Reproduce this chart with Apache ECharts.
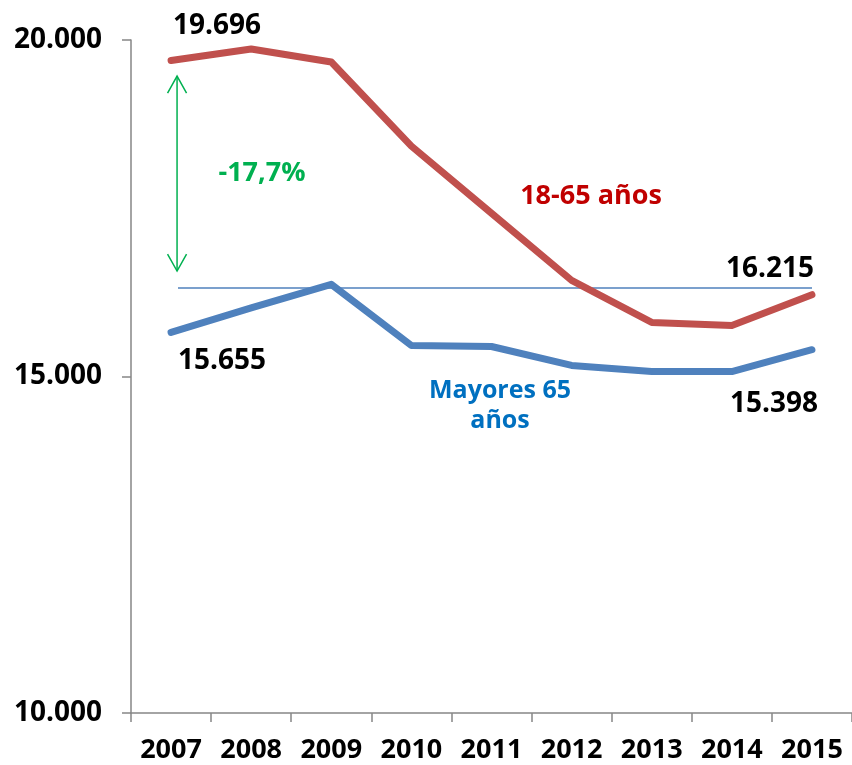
<!DOCTYPE html>
<html>
<head>
<meta charset="utf-8">
<script src="https://cdn.jsdelivr.net/npm/echarts@6/dist/echarts.min.js"></script>
<style>
  html, body { margin: 0; padding: 0; background: #fff; }
  #main { width: 852px; height: 765px; }
</style>
</head>
<body>
<div id="main"></div>
<script>
var years = ['2007', '2008', '2009', '2010', '2011', '2012', '2013', '2014', '2015'];
var adults = [19696, 19866, 19673, 18423, 17426, 16429, 15804, 15759, 16215];   // 18-65 años
var seniors = [15655, 16019, 16369, 15461, 15446, 15164, 15074, 15074, 15398];  // Mayores 65 años
var refLevel = 16324;               // linea horizontal de referencia
var arrowRange = [19464, 16567];    // flecha -17,7%
var yTicks = [10000, 15000, 20000];

var FONT = '"Open Sans", "DejaVu Sans", sans-serif';

function fmt(v) {
    return String(v).replace(/\B(?=(\d{3})+(?!\d))/g, '.');
}

// etiquetas solo en el primer y ultimo punto
function withLabels(values, first, last) {
    return values.map(function (v, i) {
        if (i === 0) return { value: v, label: { show: true, offset: first } };
        if (i === values.length - 1) return { value: v, label: { show: true, offset: last } };
        return v;
    });
}

var chart = echarts.init(document.getElementById('main'));

var labelStyle = {
    show: false,
    position: 'inside',
    color: '#000',
    fontFamily: FONT,
    fontWeight: 'bold',
    fontSize: 28,
    formatter: function (p) { return fmt(p.value); }
};

var option = {
    animation: false,
    backgroundColor: '#fff',
    grid: { left: 131, right: -3, top: 40, bottom: 52, containLabel: false },
    xAxis: {
        type: 'category',
        data: years,
        boundaryGap: true,
        axisLine: { lineStyle: { color: '#868686', width: 1.5 } },
        axisTick: { show: true, length: 9, lineStyle: { color: '#868686', width: 1.5 } },
        axisLabel: {
            color: '#000', fontFamily: FONT, fontWeight: 'bold', fontSize: 27, margin: 24,
            interval: 0
        },
        splitLine: { show: false }
    },
    yAxis: {
        type: 'value',
        min: yTicks[0],
        max: yTicks[yTicks.length - 1],
        interval: 5000,
        axisLine: { show: true, lineStyle: { color: '#868686', width: 1.5 } },
        axisTick: { show: true, length: 9, lineStyle: { color: '#868686', width: 1.5 } },
        axisLabel: {
            color: '#000', fontFamily: FONT, fontWeight: 'bold', fontSize: 28, margin: 29,
            formatter: function (v) { return fmt(v); }
        },
        splitLine: { show: false }
    },
    series: [
        {
            name: '18-65 años',
            type: 'line',
            data: withLabels(adults, [46, -34], [-42, -26]),
            symbol: 'circle',
            symbolSize: 2,
            itemStyle: { color: '#C0504D' },
            lineStyle: { color: '#C0504D', width: 7, cap: 'round', join: 'round' },
            label: labelStyle,
            z: 3
        },
        {
            name: 'Mayores 65 años',
            type: 'line',
            data: withLabels(seniors, [51, 29], [-38, 54]),
            symbol: 'circle',
            symbolSize: 2,
            itemStyle: { color: '#4F81BD' },
            lineStyle: { color: '#4F81BD', width: 7, cap: 'round', join: 'round' },
            label: labelStyle,
            z: 3,
            markLine: {
                silent: true,
                symbol: ['none', 'none'],
                label: { show: false },
                lineStyle: { color: '#4F81BD', width: 1.5, type: 'solid' },
                data: [[{ coord: [years[0], refLevel], x: 178 }, { coord: [years[years.length - 1], refLevel], x: 812 }]],
                z: 2
            }
        }
    ]
};
chart.setOption(option);

// flecha verde y textos
var arrowTop = chart.convertToPixel({ xAxisIndex: 0, yAxisIndex: 0 }, [years[0], arrowRange[0]]);
var arrowBot = chart.convertToPixel({ xAxisIndex: 0, yAxisIndex: 0 }, [years[0], arrowRange[1]]);
var ax = arrowTop[0] + 6;
var green = '#00B050';
var arrowLine = { stroke: green, lineWidth: 1.5, fill: null };

chart.setOption({
    graphic: [
        { type: 'line', shape: { x1: ax, y1: arrowTop[1], x2: ax, y2: arrowBot[1] }, style: arrowLine, z: 10 },
        { type: 'polyline', shape: { points: [[ax - 9.5, arrowTop[1] + 17], [ax, arrowTop[1]], [ax + 9.5, arrowTop[1] + 17]] }, style: arrowLine, z: 10 },
        { type: 'polyline', shape: { points: [[ax - 9.5, arrowBot[1] - 17], [ax, arrowBot[1]], [ax + 9.5, arrowBot[1] - 17]] }, style: arrowLine, z: 10 },
        {
            type: 'text', x: 262, y: 173, z: 10,
            style: { text: '-17,7%', fill: green, font: 'bold 27px ' + FONT, textAlign: 'center', textVerticalAlign: 'middle' }
        },
        {
            type: 'text', x: 591, y: 196, z: 10,
            style: { text: '18-65 años', fill: '#C00000', font: 'bold 27px ' + FONT, textAlign: 'center', textVerticalAlign: 'middle' }
        },
        {
            type: 'text', x: 500, y: 406, z: 10,
            style: { text: 'Mayores 65\naños', fill: '#0070C0', font: 'bold 25px ' + FONT, lineHeight: 30, textAlign: 'center', textVerticalAlign: 'middle' }
        }
    ]
});
</script>
</body>
</html>
